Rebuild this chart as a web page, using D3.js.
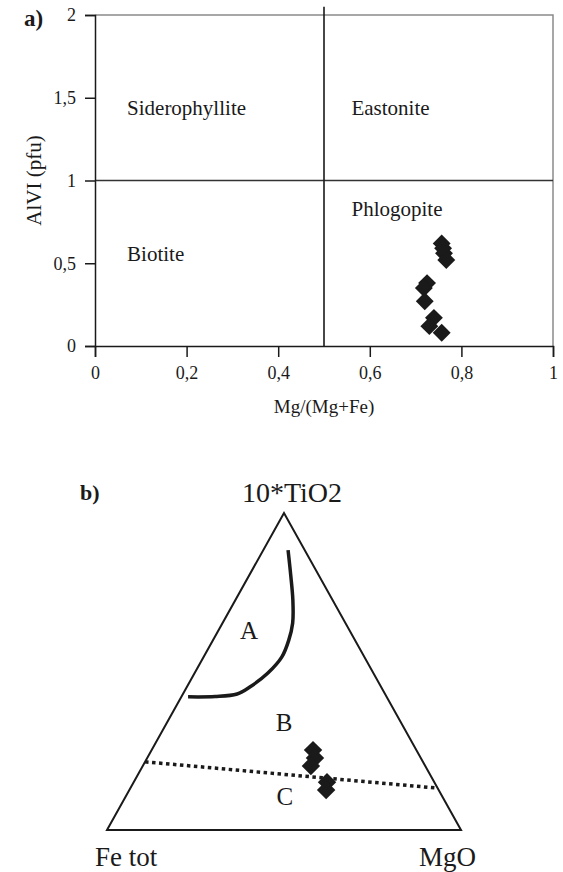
<!DOCTYPE html>
<html><head><meta charset="utf-8">
<script src="https://cdn.jsdelivr.net/npm/d3@7"></script>
<style>
body{margin:0;background:#fff}
svg{display:block}
text{font-family:"Liberation Serif","Times New Roman",serif;fill:#1a1a1a}
</style>
</head><body>
<svg id="c" width="563" height="872"></svg>
<script>
// ---------- Panel a data ----------
const xTicks = [0, 0.2, 0.4, 0.6, 0.8, 1];
const yTicks = [0, 0.5, 1, 1.5, 2];
const mgNumber = [0.757, 0.760, 0.762, 0.767, 0.725, 0.718, 0.720, 0.740, 0.730, 0.757];
const alVI     = [0.62, 0.59, 0.56, 0.52, 0.38, 0.35, 0.27, 0.17, 0.12, 0.08];
const fieldNames = ["Siderophyllite", "Eastonite", "Biotite", "Phlogopite"];
const fieldMg    = [0.07, 0.56, 0.07, 0.56];
const fieldAl    = [1.44, 1.44, 0.56, 0.83];
const dividerMg  = [0.5];
const dividerAl  = [1];

// ---------- Panel b data (ternary fractions) ----------
const ptTiO2 = [0.252, 0.227, 0.202, 0.151, 0.126];
const ptMgO  = [0.456, 0.474, 0.475, 0.546, 0.556];
const ptFe   = [0.292, 0.299, 0.323, 0.303, 0.318];
const curveA_TiO2 = [0.883, 0.804, 0.726, 0.653, 0.599, 0.546, 0.495, 0.451, 0.429, 0.421, 0.420];
const curveA_MgO  = [0.070, 0.117, 0.162, 0.198, 0.214, 0.221, 0.207, 0.178, 0.153, 0.095, 0.019];
const lineBC_TiO2 = [0.215, 0.132];
const lineBC_MgO  = [0.0, 0.868];
const zoneNames = ["A", "B", "C"];
const zoneTiO2  = [0.631, 0.341, 0.105];
const zoneMgO   = [0.086, 0.330, 0.450];

const svg = d3.select("#c");
const fmt = d => String(d).replace(".", ",");

// ---------- Panel a ----------
const x = d3.scaleLinear().domain([0, 1]).range([95, 553]);
const y = d3.scaleLinear().domain([0, 2]).range([346, 15]);
const ga = svg.append("g");

ga.append("path")
  .attr("d", `M${x(0)},${y(2)}H${x(1)}V${y(0)}`)
  .attr("fill", "none").attr("stroke", "#8a8a8a").attr("stroke-width", 1.5);

ga.append("line")
  .attr("x1", x(0)).attr("x2", x(1))
  .attr("y1", y(dividerAl[0])).attr("y2", y(dividerAl[0]))
  .attr("stroke", "#333").attr("stroke-width", 1.5);
ga.append("line")
  .attr("x1", x(dividerMg[0])).attr("x2", x(dividerMg[0]))
  .attr("y1", y(0)).attr("y2", y(2.05))
  .attr("stroke", "#1a1a1a").attr("stroke-width", 1.6);

const xAxis = ga.append("g").attr("transform", `translate(0,${y(0)})`)
  .call(d3.axisBottom(x).tickValues(xTicks).tickSize(11).tickPadding(9).tickFormat(fmt));
const yAxis = ga.append("g").attr("transform", `translate(${x(0)},0)`)
  .call(d3.axisLeft(y).tickValues(yTicks).tickSize(10).tickPadding(9).tickFormat(fmt));
[xAxis, yAxis].forEach(a => {
  a.selectAll("path,line").attr("stroke", "#1a1a1a").attr("stroke-width", 1.5);
  a.selectAll("text").attr("font-family", "Liberation Serif").attr("font-size", 18).attr("fill", "#1a1a1a");
});

ga.selectAll(".field").data(fieldNames).join("text")
  .attr("x", (d, i) => x(fieldMg[i])).attr("y", (d, i) => y(fieldAl[i]))
  .attr("dy", "0.35em").attr("font-size", 21).text(d => d);

const sq = d3.symbol().type(d3.symbolSquare).size(160);
ga.selectAll(".pa").data(mgNumber).join("path")
  .attr("d", sq)
  .attr("transform", (d, i) => `translate(${x(d)},${y(alVI[i])}) rotate(45)`)
  .attr("fill", "#1a1a1a");

ga.append("text").attr("x", (x(0) + x(1)) / 2).attr("y", 413)
  .attr("text-anchor", "middle").attr("font-size", 19).text("Mg/(Mg+Fe)");
ga.append("text").attr("transform", `translate(41,${y(1)}) rotate(-90)`)
  .attr("text-anchor", "middle").attr("font-size", 21).text("AlVI (pfu)");
ga.append("text").attr("x", 24).attr("y", 26)
  .attr("font-size", 23).attr("font-weight", "bold").text("a)");

// ---------- Panel b (ternary) ----------
const apex = [284, 513], left = [107, 830], right = [461, 830];
function tern(t, m) {
  const f = 1 - t - m;
  return [t * apex[0] + f * left[0] + m * right[0], t * apex[1] + f * left[1] + m * right[1]];
}
const gb = svg.append("g");
gb.append("path")
  .attr("d", `M${apex}L${left}L${right}Z`)
  .attr("fill", "none").attr("stroke", "#1a1a1a").attr("stroke-width", 2).attr("stroke-linejoin", "miter");

const lineGen = d3.line().curve(d3.curveCatmullRom.alpha(0.5));
gb.append("path")
  .attr("d", lineGen(curveA_TiO2.map((t, i) => tern(t, curveA_MgO[i]))))
  .attr("fill", "none").attr("stroke", "#1a1a1a").attr("stroke-width", 3.5);

gb.append("path")
  .attr("d", d3.line()(lineBC_TiO2.map((t, i) => tern(t, lineBC_MgO[i]))))
  .attr("fill", "none").attr("stroke", "#1a1a1a").attr("stroke-width", 3.5)
  .attr("stroke-dasharray", "3.5,3.5");

gb.selectAll(".zone").data(zoneNames).join("text")
  .attr("transform", (d, i) => `translate(${tern(zoneTiO2[i], zoneMgO[i])})`)
  .attr("text-anchor", "middle").attr("dy", "0.35em").attr("font-size", 25).text(d => d);

const sqb = d3.symbol().type(d3.symbolSquare).size(170);
gb.selectAll(".pb").data(ptTiO2).join("path")
  .attr("d", sqb)
  .attr("transform", (d, i) => `translate(${tern(d, ptMgO[i])}) rotate(45)`)
  .attr("fill", "#1a1a1a");

gb.append("text").attr("x", 292).attr("y", 502).attr("text-anchor", "middle")
  .attr("font-size", 28).text("10*TiO2");
gb.append("text").attr("x", 80).attr("y", 500)
  .attr("font-size", 22).attr("font-weight", "bold").text("b)");
gb.append("text").attr("x", 95).attr("y", 866).attr("font-size", 27).text("Fe tot");
gb.append("text").attr("x", 476).attr("y", 866).attr("text-anchor", "end").attr("font-size", 27).text("MgO");
</script>
</body></html>
